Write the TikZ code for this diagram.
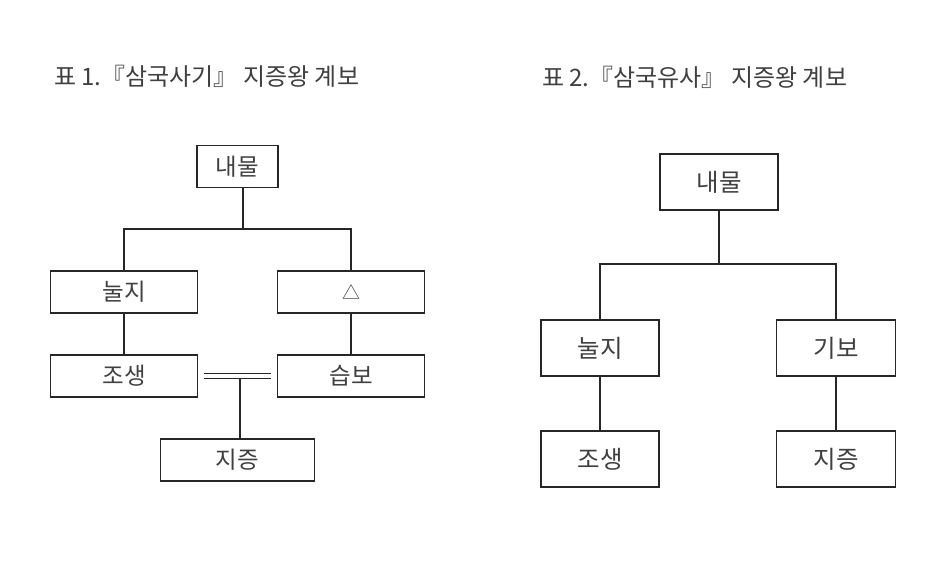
\documentclass[tikz,border=0pt]{standalone}
\usepackage{fontspec}
\setmainfont{Noto Sans CJK KR}
\begin{document}
\begin{tikzpicture}[x=1pt,y=-1pt,
  txt/.style={text=black!75},
  boxl/.style={draw=black!85, line width=1.7pt, txt, inner sep=0pt, minimum height=42pt, font=\fontsize{23.5}{25}\selectfont},
  boxr/.style={draw=black!85, line width=1.7pt, txt, inner sep=0pt, minimum height=56pt, minimum width=118pt, font=\fontsize{24.5}{26}\selectfont},
  ttl/.style={txt, anchor=west, inner sep=0pt, font=\fontsize{24}{26}\selectfont},
  conn/.style={draw=black!85, line width=1.4pt}]
\useasboundingbox[fill=white] (0,0) rectangle (950,563);
% titles
\node[ttl] (T1) at (54,76.5) {표 1.『삼국사기』 지증왕 계보};
\node[ttl] (T2) at (542,77) {표 2.『삼국유사』 지증왕 계보};
% left tree
\node[boxl, minimum width=81pt] (L1) at (237.5,166.5) {내물};
\node[boxl, minimum width=147pt] (L2) at (124,292) {눌지};
\node[boxl, minimum width=147pt, font=\fontsize{18}{20}\selectfont] (L3) at (351,292) {△};
\node[boxl, minimum width=147pt] (L4) at (124,376) {조생};
\node[boxl, minimum width=147pt] (L5) at (351,376) {습보};
\node[boxl, minimum width=154pt] (L6) at (237.5,460) {지증};
\coordinate (J1) at (243,229);
\coordinate (D) at (240,378.5);
\draw[conn] (J1 |- L1.south) -- (J1);
\draw[conn] (L2.north) -- (L2.north |- J1) -- (L3.north |- J1) -- (L3.north);
\draw[conn] (L2.south) -- (L4.north);
\draw[conn] (L3.south) -- (L5.north);
\draw[conn] ([xshift=6pt,yshift=2.5pt]L4.east) -- ([xshift=-6pt,yshift=2.5pt]L5.west);
\draw[conn] ([xshift=6pt,yshift=-2.5pt]L4.east) -- ([xshift=-6pt,yshift=-2.5pt]L5.west);
\draw[conn] (D) -- (D |- L6.north);
% right tree
\node[boxr] (R1) at (719,182) {내물};
\node[boxr] (R2) at (600,348) {눌지};
\node[boxr, minimum width=119pt] (R3) at (836,348) {기보};
\node[boxr] (R4) at (600,459) {조생};
\node[boxr, minimum width=119pt] (R5) at (836,459) {지증};
\coordinate (J2) at (719,264);
\draw[conn] (R1.south) -- (J2);
\draw[conn] (R2.north) -- (R2.north |- J2) -- (R3.north |- J2) -- (R3.north);
\draw[conn] (R2.south) -- (R4.north);
\draw[conn] (R3.south) -- (R5.north);
\end{tikzpicture}
\end{document}
